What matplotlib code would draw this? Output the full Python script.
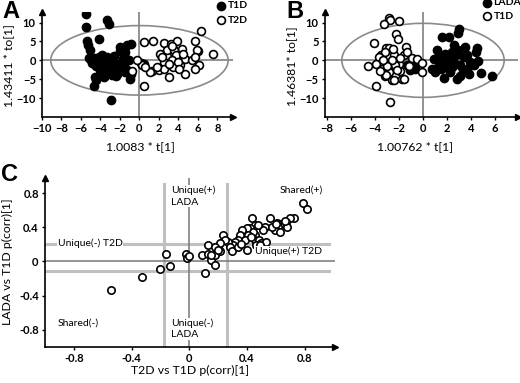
import numpy as np
import matplotlib
matplotlib.use("Agg")
import matplotlib.pyplot as plt
from matplotlib.patches import Ellipse

plt.rcParams['font.family'] = ['Lato', 'DejaVu Sans']

# ---- panel A : T1D vs T2D scores ----
a_t1d_x = [-5.45, -5.45, -3.3, -3.15, -4.2, -5.35, -5.3, -5.1, -1.95, -1.3, -0.9, -1.45, -1.6,
           -5.0, -4.7, -4.2, -3.85, -3.3, -2.8, -4.3, -3.85, -3.5, -3.15, -2.65, -2.15, -1.8,
           -1.5, -2.3, -2.8, -3.3, -3.95, -4.6, -4.45, -4.7, -2.3, -1.6, -1.1, -0.9, -1.0, -2.9,
           0.2, 0.5, -4.5, -4.0, -3.0, -2.5, -2.0, -3.7, -4.9, -2.6, -2.0, -1.7, -2.9, -3.6,
           -1.3, -5.2, -4.3, -2.4, -3.4, -1.9]
a_t1d_y = [12.2, 8.9, 10.6, 9.5, 5.7, 5.2, 4.0, 2.8, 3.6, 4.0, 4.4, 2.3, 1.3,
           0.0, 0.5, 0.9, 1.3, 0.9, 0.0, -0.9, -1.3, -1.8, -2.2, -2.7, -3.1, -2.2,
           -3.1, -3.6, -4.0, -3.6, -3.1, -4.4, -5.2, -6.7, -0.9, -0.9, 0.0, -3.6, -4.9, -10.5,
           -0.6, -1.0, -1.6, -2.5, -1.0, -1.8, -2.0, 0.0, -0.6, 1.2, 2.5, 0.3, -3.0, -4.4,
           -2.6, 0.7, 0.3, -4.2, -0.3, -1.2]
a_t2d_x = [0.5, 1.4, 2.5, 3.2, 3.9, 5.75, 6.3, 7.5, 6.0, 6.1, 5.7, 4.7, 3.0, 0.45, 2.0,
           1.3, 0.3, 2.5, 3.5, 4.4, 2.2, 2.8, 3.7, 4.7, 5.4, 4.2, 3.4, 2.5, -0.75, -0.25,
           2.15, 2.3, 3.5, 3.7, 5.9, 5.75, 3.35, 4.0, 3.0, 1.8, 1.1, 0.6, 4.1, 3.3, 4.5]
a_t2d_y = [4.9, 5.1, 4.7, 4.2, 5.0, 5.0, 7.8, 1.6, 2.5, -1.3, -2.2, -3.5, -4.4, -6.9, -2.5,
           -2.9, -1.3, -0.4, 2.0, 3.1, 1.3, 2.7, 0.0, 0.4, 0.0, -1.3, -1.8, -2.2, -2.8, 0.0,
           1.8, 0.9, 2.7, 1.3, 2.7, 0.9, 0.0, -0.4, -0.9, -1.8, -3.1, -1.8, -2.2, 3.8, 1.8]

# ---- panel B : LADA vs T1D scores ----
b_lada_x = [2.97, 2.92, 1.6, 2.2, 2.56, 3.5, 4.5, 4.4, 1.17, 1.3, 1.86, 2.4, 3.0, 3.4, 3.94,
            4.2, 0.9, 1.6, 2.1, 2.7, 3.1, 3.67, 0.75, 1.03, 1.72, 2.28, 2.83, 3.1, 3.8, 4.86,
            5.7, 2.4, 1.86, 1.3, -0.9, -0.64, -1.33, -0.5, -1.1, 2.0, 2.5, 3.3, 1.5, 2.9,
            3.7, 4.6]
b_lada_y = [8.2, 7.3, 6.2, 6.2, 4.0, 3.5, 3.3, 2.2, 2.7, 1.3, 1.8, 2.2, 1.8, 0.9, -0.4,
            -1.2, 0.4, 0.0, -0.4, -0.9, -1.3, -2.2, -2.2, -3.1, -4.7, -3.1, -5.0, -4.2, -3.5,
            -3.4, -4.2, -1.8, -1.8, -1.3, -1.3, -2.2, -1.3, -0.4, -2.6, 1.0, 0.3, -2.6, -2.4,
            2.8, 1.5, -0.1]
b_t1d_x = [-2.86, -2.78, -3.28, -1.97, -2.25, -2.08, -4.06, -3.06, -2.85, -3.5, -3.2, -2.44,
           -3.64, -3.9, -4.6, -3.4, -2.86, -3.14, -2.58, -3.95, -2.78, -1.9, -1.75, -2.0,
           -2.3, -1.4, -1.6, -1.3, -0.9, -0.5, -0.1, -0.1, -1.6, -2.4, -3.1, -2.6, -3.0,
           -1.2, -2.2, -3.6, -1.9, -3.3, -2.5]
b_t1d_y = [11.3, 10.6, 9.6, 10.4, 7.1, 5.6, 4.6, 3.4, 3.2, 1.5, 2.2, 1.5,
           0.9, -0.9, -1.4, -2.2, -3.1, -4.2, -5.3, -6.9, -11.0, -2.7, -4.9, -0.9,
           -1.3, 3.5, 1.3, 2.2, 0.7, 0.4, -0.7, -3.1, -5.0, -5.3, -4.0, 0.0, -1.5,
           -1.5, -2.5, -2.8, 0.5, 0.0, 3.0]

# ---- panel C : shared and unique structure plot ----
c_x = [-0.545, -0.33, -0.205, -0.133, -0.158, -0.02, -0.015, -0.005, 0.089, 0.108, 0.13,
       0.127, 0.15, 0.178, 0.178, 0.2, 0.21, 0.786, 0.814, 0.728, 0.698, 0.67, 0.628, 0.605,
       0.559, 0.617, 0.679, 0.594, 0.628, 0.524, 0.57, 0.513, 0.432, 0.455, 0.478, 0.42,
       0.455, 0.443, 0.455, 0.485, 0.5, 0.531, 0.462, 0.49, 0.397, 0.362, 0.409, 0.35,
       0.385, 0.339, 0.316, 0.397, 0.304, 0.27, 0.235, 0.246, 0.281, 0.212, 0.177, 0.2,
       0.154, 0.293, 0.339, 0.43, 0.36, 0.6, 0.66]
c_y = [-0.33, -0.186, -0.085, -0.058, 0.09, 0.09, 0.04, 0.06, 0.075, -0.135, 0.09,
       0.195, 0.02, 0.07, -0.04, 0.18, 0.12, 0.688, 0.614, 0.513, 0.505, 0.466, 0.435, 0.447,
       0.505, 0.408, 0.408, 0.369, 0.342, 0.408, 0.408, 0.369, 0.505, 0.427, 0.427, 0.388,
       0.311, 0.35, 0.253, 0.253, 0.214, 0.233, 0.194, 0.194, 0.388, 0.369, 0.311, 0.311,
       0.253, 0.253, 0.233, 0.136, 0.194, 0.233, 0.311, 0.253, 0.175, 0.214, 0.175, 0.136,
       0.078, 0.117, 0.175, 0.29, 0.2, 0.44, 0.47]
c_vlines = [-0.177, 0.258]
c_hlines = [0.203, -0.112]

W, H = 520, 383
fig = plt.figure(figsize=(W / 100, H / 100), dpi=100)

def px(x0, y0, x1, y1):
    # pixel box -> figure fraction
    return [x0 / W, 1 - y1 / H, (x1 - x0) / W, (y1 - y0) / H]

def style(ax):
    for s in ['top', 'right']:
        ax.spines[s].set_visible(False)
    for s in ['left', 'bottom']:
        ax.spines[s].set_linewidth(1.2)
    ax.tick_params(length=2.5, width=1, pad=2, labelsize=8)
    for lab in ax.get_xticklabels() + ax.get_yticklabels():
        lab.set_fontweight('bold')
    ax.plot(1, 0, '>', color='k', ms=4, transform=ax.transAxes, clip_on=False)
    ax.plot(0, 1, '^', color='k', ms=4, transform=ax.transAxes, clip_on=False)
    ax.patch.set_alpha(0)

# panel A
axA = fig.add_axes(px(42, 12, 233, 117))
axA.set_xlim(-10, 9.6)
axA.set_ylim(-15, 12.8)
axA.axhline(0, color='#8a8a8a', lw=1.3, zorder=1)
axA.axvline(0, color='#8a8a8a', lw=1.3, zorder=1)
axA.add_patch(Ellipse((0, 0), 18.2, 18.4, fill=False, ec='#8a8a8a', lw=1.2, zorder=1))
axA.scatter(a_t1d_x, a_t1d_y, s=36, c='k', zorder=3)
axA.scatter(a_t2d_x, a_t2d_y, s=32, facecolors='white', edgecolors='k', linewidths=1.2, zorder=3)
axA.set_xticks(range(-10, 9, 2))
axA.set_yticks([-10, -5, 0, 5, 10])
style(axA)

# panel B
axB = fig.add_axes(px(325, 12, 518, 117))
axB.set_xlim(-8.15, 7.9)
axB.set_ylim(-15, 12.8)
axB.axhline(0, color='#8a8a8a', lw=1.3, zorder=1)
axB.axvline(0, color='#8a8a8a', lw=1.3, zorder=1)
axB.add_patch(Ellipse((0, 0), 13.5, 19.6, fill=False, ec='#8a8a8a', lw=1.2, zorder=1))
axB.scatter(b_lada_x, b_lada_y, s=36, c='k', zorder=3)
axB.scatter(b_t1d_x, b_t1d_y, s=32, facecolors='white', edgecolors='k', linewidths=1.2, zorder=3)
axB.set_xticks(range(-8, 7, 2))
axB.set_yticks([-10, -5, 0, 5, 10])
style(axB)

# panel C
axC = fig.add_axes(px(45, 178, 335, 347))
axC.set_xlim(-1.0, 1.01)
axC.set_ylim(-1.0, 0.976)
for v in c_vlines:
    axC.plot([v, v], [-1.0, 0.91], color='#c0c0c0', lw=2.2, zorder=1)
for h in c_hlines:
    axC.plot([-1.0, 0.97], [h, h], color='#c0c0c0', lw=2.2, zorder=1)
axC.axvline(0, color='#777777', lw=1.1, zorder=1)
axC.axhline(0, color='#777777', lw=1.1, zorder=1)
axC.scatter(c_x, c_y, s=28, facecolors='white', edgecolors='k', linewidths=1.2, zorder=3)
axC.set_xticks([-0.8, -0.4, 0, 0.4, 0.8])
axC.set_xticklabels(['-0.8', '-0.4', '0', '0.4', '0.8'])
axC.set_yticks([-0.8, -0.4, 0, 0.4, 0.8])
axC.set_yticklabels(['-0.8', '-0.4', '0', '0.4', '0.8'])
style(axC)

box = dict(facecolor='white', edgecolor='none', pad=0.5)
tkw = dict(fontsize=7.5, zorder=4)
axC.text(-0.124, 0.765, 'Unique(+)\nLADA', va='center', ha='left', linespacing=1.4, bbox=box, **tkw)
axC.text(-0.124, -0.79, 'Unique(-)\nLADA', va='center', ha='left', linespacing=1.3, bbox=box, **tkw)
axC.text(-0.913, 0.214, 'Unique(-) T2D', va='center', ha='left', bbox=box, **tkw)
axC.text(0.455, 0.117, 'Unique(+) T2D', va='center', ha='left', bbox=box, **tkw)
axC.text(0.775, 0.84, 'Shared(+)', va='center', ha='center', **tkw)
axC.text(-0.913, -0.715, 'Shared(-)', va='center', ha='left', **tkw)

# axis labels, panel letters and legends in pixel positions
def ftext(x, y, s, **kw):
    fig.text(x / W, 1 - y / H, s, **kw)

lkw = dict(fontsize=8.8, ha='center', va='center')
ftext(140, 147, '1.0083 * t[1]', **lkw)
ftext(9, 66, '1.43411 * to[1]', rotation=90, **lkw)
ftext(415, 147, '1.00762 * t[1]', **lkw)
ftext(292, 66, '1.46381* to[1]', rotation=90, **lkw)
ftext(190, 370, 'T2D vs T1D p(corr)[1]', **lkw)
ftext(7, 262, 'LADA vs T1D p(corr)[1]', rotation=90, **lkw)

pkw = dict(fontsize=17, fontweight='bold', family='Liberation Sans', ha='center', va='center')
ftext(11, 12, 'A', **pkw)
ftext(295, 12, 'B', **pkw)
ftext(10, 175, 'C', **pkw)

legA = axA.legend([axA.collections[0], axA.collections[1]], ['T1D', 'T2D'],
                  loc='upper left', bbox_to_anchor=(216 / W, 1 - 1 / H),
                  bbox_transform=fig.transFigure, frameon=False, fontsize=7.5,
                  handletextpad=0.1, labelspacing=0.5, borderpad=0, borderaxespad=0,
                  handlelength=1.0, markerscale=1.0)
for t in legA.get_texts():
    t.set_fontweight('bold')
legB = axB.legend([axB.collections[0], axB.collections[1]], ['LADA', 'T1D'],
                  loc='upper left', bbox_to_anchor=(482 / W, 1 + 2 / H),
                  bbox_transform=fig.transFigure, frameon=False, fontsize=7.5,
                  handletextpad=0.1, labelspacing=0.4, borderpad=0, borderaxespad=0,
                  handlelength=1.0, markerscale=1.0)
for t in legB.get_texts():
    t.set_fontweight('bold')

fig.savefig('out.png', dpi=100)
